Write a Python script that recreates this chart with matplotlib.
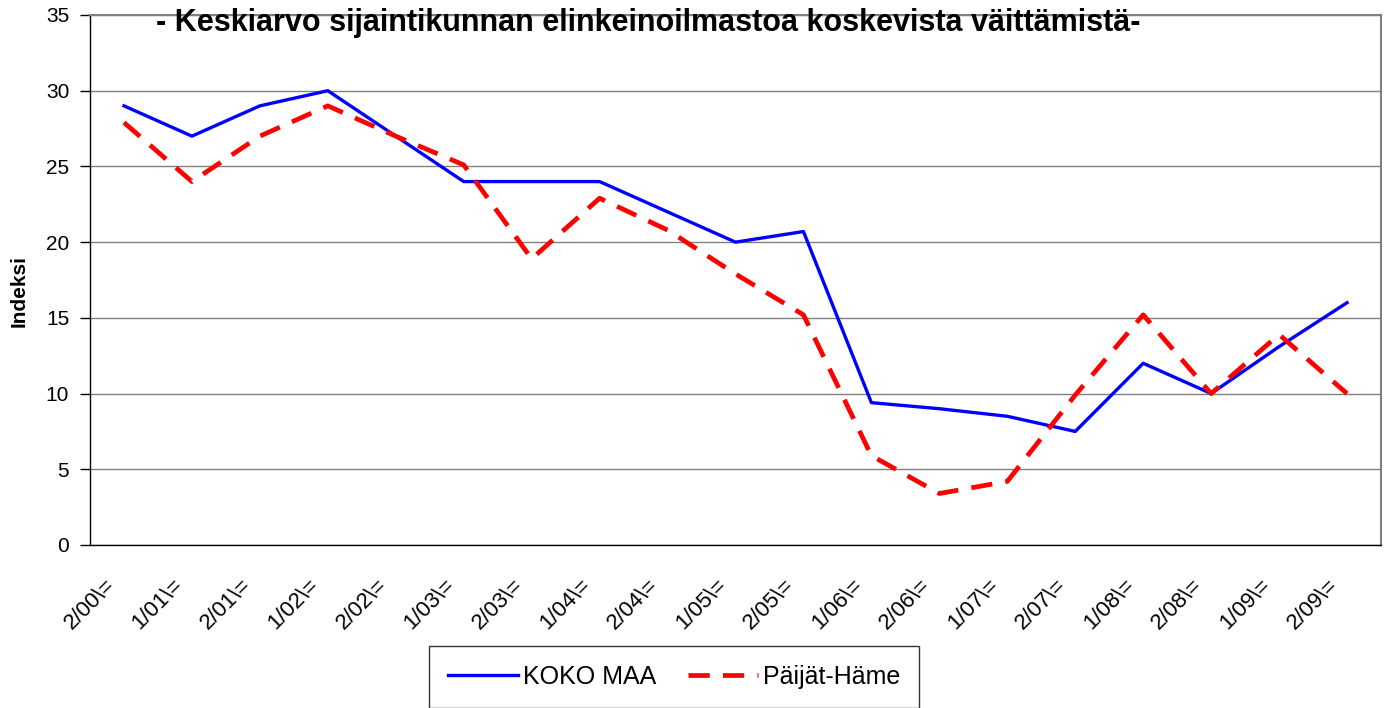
import numpy as np
import matplotlib
matplotlib.use("Agg")
import matplotlib.pyplot as plt
import matplotlib.transforms as mtransforms

plt.rcParams["font.family"] = ["Liberation Sans", "DejaVu Sans"]

# Data
periods = ["2/00\\=", "1/01\\=", "2/01\\=", "1/02\\=", "2/02\\=", "1/03\\=", "2/03\\=",
           "1/04\\=", "2/04\\=", "1/05\\=", "2/05\\=", "1/06\\=", "2/06\\=", "1/07\\=",
           "2/07\\=", "1/08\\=", "2/08\\=", "1/09\\=", "2/09\\="]
koko_maa = [29, 27, 29, 30, 27, 24, 24, 24, 22, 20, 20.7, 9.4, 9.0, 8.5, 7.5, 12.0, 10.0, 13.1, 16.0]
paijat_hame = [27.9, 24, 27, 29, 27, 25.1, 18.9, 22.9, 20.8, 17.9, 15.2, 5.9, 3.4, 4.2, 9.9, 15.2, 10.0, 13.9, 10.0]

title = "- Keskiarvo sijaintikunnan elinkeinoilmastoa koskevista väittämistä-"

fig = plt.figure(figsize=(13.87, 7.08), dpi=100)
ax = fig.add_axes([90 / 1387, 1 - 545 / 708, (1381 - 90) / 1387, (545 - 15) / 708])

x = np.arange(len(periods))
ax.plot(x, koko_maa, color="#0000ff", lw=2.4, label="KOKO MAA", zorder=3)
ax.plot(x, paijat_hame, color="#ff0000", lw=3.4, dashes=(4.5, 2.8), label="Päijät-Häme", zorder=4)

ax.set_xlim(-0.5, len(periods) - 0.5)
ax.set_ylim(0, 35)
ax.set_yticks(np.arange(0, 36, 5))
ax.set_xticks(x)
ax.set_xticklabels([])
ax.tick_params(axis="x", length=0)
ax.tick_params(axis="y", length=7, width=1, labelsize=15, pad=8)
ax.yaxis.grid(True, color="#808080", lw=1)
ax.set_axisbelow(True)

# rotated category labels, nudged left/down like the original
offset = mtransforms.ScaledTranslation(-12 / 100, -37 / 100, fig.dpi_scale_trans)
for i, lab in enumerate(periods):
    ax.text(x[i], 0, lab, transform=ax.get_xaxis_transform() + offset, rotation=45,
            ha="right", va="center", rotation_mode="anchor", fontsize=16, clip_on=False)

for side in ["top", "right"]:
    ax.spines[side].set_color("#808080")
    ax.spines[side].set_linewidth(1.5)
for side in ["left", "bottom"]:
    ax.spines[side].set_color("black")
    ax.spines[side].set_linewidth(1)

# y axis title placed in figure pixels
fig.text(19 / 1387, 1 - 291 / 708, "Indeksi", rotation=90, ha="center", va="center",
         fontsize=15, fontweight="bold")

fig.text(648 / 1387, 1 - 31 / 708, title, ha="center", va="baseline", fontsize=22, fontweight="bold")

leg = fig.legend(loc="center", bbox_to_anchor=(674 / 1387, 1 - 677 / 708), ncol=2, fontsize=18,
                 frameon=True, fancybox=False, edgecolor="black", handlelength=2.8,
                 columnspacing=1.25, borderpad=0.75, handletextpad=0.2)
leg.get_frame().set_linewidth(1)

fig.savefig("out.png", dpi=100)
